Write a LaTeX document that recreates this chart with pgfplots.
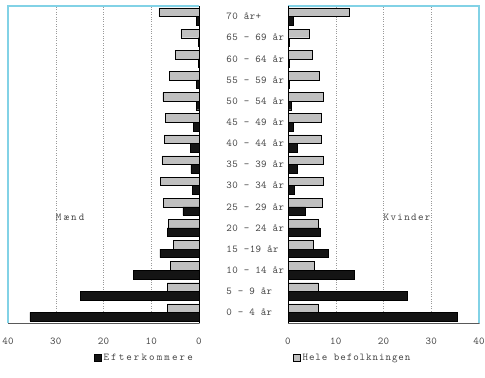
\documentclass[border=0pt]{standalone}
\usepackage{fontspec}
\setmonofont{Latin Modern Mono}[LetterSpace=4]
\newfontfamily\lsa{Latin Modern Mono}[LetterSpace=9]
\newfontfamily\lsk{Latin Modern Mono}[LetterSpace=13]
\newfontfamily\lsb{Latin Modern Mono}[LetterSpace=20]
\usepackage{pgfplots}
\pgfplotsset{compat=1.18}
\definecolor{cy}{RGB}{130,210,230}
\definecolor{barg}{RGB}{192,192,192}
\definecolor{bark}{RGB}{20,20,20}
\definecolor{txt}{RGB}{70,70,70}
\pgfplotsset{
  common/.style={
    anchor=south west, scale only axis, width=191bp, height=317bp,
    xmin=0, xmax=40, ymin=-0.5, ymax=14.5,
    xbar, bar width=8.6bp,
    xtick={0,10,20,30,40},
    xmajorgrids, grid style={dotted, black!40},
    tick style={draw=none}, axis line style={draw=none},
    /pgf/number format/assume math mode=true,
    ticklabel style={font=\fontsize{10.5bp}{12bp}\ttfamily, text=txt},
    xticklabel style={yshift=-11bp},
    clip=false,
  },
  sq/.style={legend image code/.code={\draw[##1, draw=black] (0bp,-3.5bp) rectangle (7bp,3.5bp);}},
}
\begin{document}
\begin{tikzpicture}
\useasboundingbox (0,0) rectangle (485bp,-378bp);
% Left panel: Maend
\begin{axis}[common, at={(8bp,-323bp)}, x dir=reverse,
  ytick={0,...,14},
  yticklabels={0 - 4 år,5 - 9 år,10 - 14 år,15 -19 år,20 - 24 år,25 - 29 år,30 - 34 år,35 - 39 år,40 - 44 år,45 - 49 år,50 - 54 år,55 - 59 år,60 - 64 år,65 - 69 år,70 år+},
  yticklabel pos=right,
  yticklabel style={anchor=west, inner sep=0pt, xshift=23bp},
  legend style={at={(0.45,-0.11)}, anchor=west, draw=none, fill=none, inner sep=0pt,
    font=\fontsize{10.5bp}{12bp}\lsb, text=txt},
]
\addplot[fill=barg, draw=black, bar shift=4.3bp, forget plot] coordinates {
(6.6,0) (6.6,1) (6.0,2) (5.4,3) (6.4,4) (7.4,5) (8.1,6) (7.8,7) (7.3,8) (7.0,9) (7.6,10) (6.2,11) (4.9,12) (3.8,13) (8.4,14)};
\addplot[fill=bark, draw=black, bar shift=-4.3bp, sq] coordinates {
(35.4,0) (24.9,1) (13.8,2) (8.2,3) (6.7,4) (3.4,5) (1.4,6) (1.7,7) (1.8,8) (1.2,9) (0.5,10) (0.5,11) (0.2,12) (0.2,13) (0.5,14)};
\addlegendentry{Efterkommere}
\draw[cy, line width=1.5bp] (axis cs:40,-0.5) -- (axis cs:40,14.5) -- (axis cs:0,14.5);
\draw[black!65, line width=1pt] (axis cs:40,-0.5) -- (axis cs:0,-0.5);
\draw[black, line width=0.8pt] (axis cs:0,-0.5) -- (axis cs:0,14.5);
\node[anchor=west, inner sep=0pt, font=\fontsize{10.5bp}{12bp}\lsb, text=txt] at (axis cs:30,4.5) {Mænd};
\end{axis}
% Right panel: Kvinder
\begin{axis}[common, at={(288bp,-323bp)},
  ytick=\empty,
  legend style={at={(0.026,-0.11)}, anchor=west, draw=none, fill=none, inner sep=0pt,
    font=\fontsize{10.5bp}{12bp}\lsa, text=txt},
]
\addplot[fill=barg, draw=black, bar shift=4.3bp, sq] coordinates {
(6.3,0) (6.3,1) (5.4,2) (5.3,3) (6.4,4) (7.1,5) (7.4,6) (7.4,7) (6.9,8) (6.9,9) (7.4,10) (6.5,11) (5.1,12) (4.5,13) (12.9,14)};
\addlegendentry{Hele befolkningen}
\addplot[fill=bark, draw=black, bar shift=-4.3bp, forget plot] coordinates {
(35.5,0) (25.0,1) (13.9,2) (8.5,3) (6.7,4) (3.7,5) (1.4,6) (1.9,7) (1.9,8) (1.0,9) (0.6,10) (0.2,11) (0.2,12) (0.2,13) (1.0,14)};
\draw[cy, line width=1.5bp] (axis cs:0,14.5) -- (axis cs:40,14.5) -- (axis cs:40,-0.5);
\draw[black!65, line width=1pt] (axis cs:0,-0.5) -- (axis cs:40,-0.5);
\draw[black, line width=0.8pt] (axis cs:0,-0.5) -- (axis cs:0,14.5);
\node[anchor=west, inner sep=0pt, font=\fontsize{10.5bp}{12bp}\lsk, text=txt] at (axis cs:20,4.5) {Kvinder};
\end{axis}
\end{tikzpicture}
\end{document}
